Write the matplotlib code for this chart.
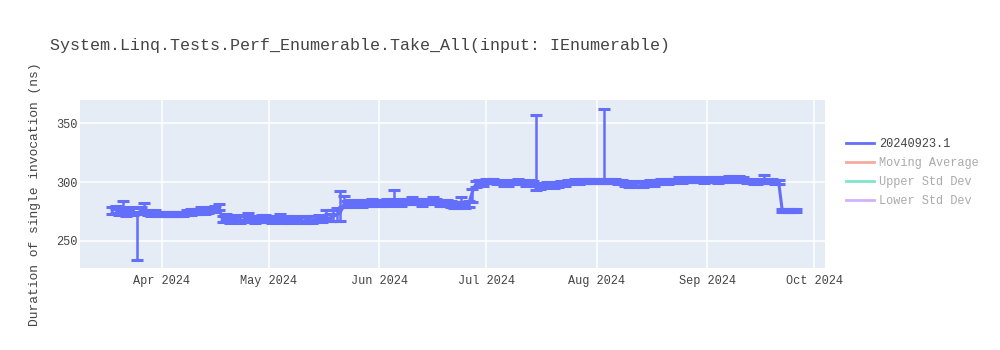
import matplotlib
matplotlib.use("Agg")
import matplotlib.pyplot as plt
import matplotlib.dates as mdates
from matplotlib.lines import Line2D
import pandas as pd
import numpy as np

# ---- data ----
start_date = "2024-03-18"
end_date = "2024-09-26"

values_mar = [276, 277, 275, 278, 274, 276, 275, 272, 276, 277, 274, 273, 274, 273]
values_apr = [273, 273, 273, 273, 273, 273, 273, 274, 274, 275, 275, 276, 275, 276, 277, 277, 278,
              268, 269, 267, 268, 269, 267, 268, 270, 268, 267, 268, 269, 268]
values_may = [268, 267, 268, 269, 267, 268, 267, 268, 268, 267, 267, 268, 267, 268, 269, 268, 270, 269, 271, 272,
              274,
              281, 281, 282, 281, 282, 281, 282, 282, 283, 282]
values_jun = [282, 282, 283, 282, 283, 283, 282, 283, 283, 284, 283, 283, 282, 283, 283, 284, 283, 282, 282, 282,
              281, 280, 280, 281, 280, 281,
              291, 298, 299, 299]
values_jul = [301, 301, 301, 300, 300, 299, 299, 300, 300, 301, 300, 299, 300, 299,
              297,
              296, 297, 298, 298, 297, 298, 299, 299, 300, 300, 301, 300, 301, 301, 301, 301]
values_aug = [301, 301,
              301,
              301, 301, 301, 300, 300, 299, 298, 298, 299, 299, 298, 299, 300, 299, 300, 301, 301, 300,
              301, 301, 302, 301, 302, 302, 302, 302, 302, 301]
values_sep = [302, 302, 302, 301, 302, 302, 303, 303, 302, 303, 302, 301, 301, 300, 300, 301, 301, 301, 301, 300, 300,
              276, 276, 276, 276, 276]

err_hi_mar = [3, 3, 3, 6, 3, 3, 3, 3, 3, 5, 2, 2, 2, 2]
err_lo_mar = [3, 3, 3, 3, 3, 3, 3, 38, 3, 3, 2, 2, 2, 2]
err_hi_apr = [2, 2, 2, 2, 2, 2, 2, 2, 3, 2, 2, 3, 2, 3, 2, 3, 3,
              3, 4, 3, 3, 3, 4, 3, 4, 3, 3, 3, 3, 4]
err_lo_apr = [2, 2, 2, 2, 2, 2, 2, 2, 2, 2, 2, 2, 2, 2, 2, 2, 2,
              2, 2, 2, 2, 2, 2, 2, 2, 2, 2, 2, 2, 2]
err_hi_may = [3, 3, 3, 4, 3, 3, 3, 3, 3, 3, 3, 3, 4, 3, 3, 3, 6, 4, 5, 6,
              18,
              7, 3, 3, 3, 3, 3, 3, 3, 3, 3]
err_lo_may = [2, 2, 2, 2, 2, 2, 2, 2, 2, 2, 2, 2, 2, 2, 2, 2, 2, 2, 4, 5,
              7,
              2, 2, 2, 2, 2, 2, 2, 2, 2, 2]
err_hi_jun = [3, 3, 3, 3, 10, 3, 3, 3, 3, 3, 3, 3, 3, 3, 3, 3, 3, 3, 3, 3,
              3, 3, 3, 6, 3, 3,
              3, 3, 3, 3]
err_lo_jun = [2, 2, 2, 2, 2, 2, 2, 2, 2, 2, 2, 2, 2, 2, 2, 2, 2, 2, 2, 2,
              2, 2, 2, 2, 2, 2,
              8, 2, 2, 2]
err_hi_jul = [2, 2, 2, 2, 2, 2, 2, 2, 2, 2, 2, 2, 2, 2,
              60,
              2, 2, 2, 2, 2, 2, 2, 2, 2, 2, 2, 2, 2, 2, 2, 2]
err_lo_jul = [2, 2, 2, 2, 2, 2, 2, 2, 2, 2, 2, 2, 2, 2,
              4,
              2, 2, 2, 2, 2, 2, 2, 2, 2, 2, 2, 2, 2, 2, 2, 2]
err_hi_aug = [2, 2,
              61,
              2, 2, 2, 2, 2, 2, 2, 2, 2, 2, 2, 2, 2, 2, 2, 2, 2, 2,
              2, 2, 2, 2, 2, 2, 2, 2, 2, 2]
err_lo_aug = [2, 2,
              2,
              2, 2, 2, 2, 2, 2, 2, 2, 2, 2, 2, 2, 2, 2, 2, 2, 2, 2,
              2, 2, 2, 2, 2, 2, 2, 2, 2, 2]
err_hi_sep = [2, 2, 2, 2, 2, 2, 2, 2, 2, 2, 2, 2, 2, 2, 2, 2, 5, 2, 2, 2, 2,
              1, 1, 1, 1, 1]
err_lo_sep = [2, 2, 2, 2, 2, 2, 2, 2, 2, 2, 2, 2, 2, 2, 2, 2, 2, 2, 2, 2, 2,
              1, 1, 1, 1, 1]

legend_names = ["20240923.1", "Moving Average", "Upper Std Dev", "Lower Std Dev"]
title = "System.Linq.Tests.Perf_Enumerable.Take_All(input: IEnumerable)"
ylabel = "Duration of single invocation (ns)"
y_ticks = [250, 300, 350]

values = values_mar + values_apr + values_may + values_jun + values_jul + values_aug + values_sep
err_hi = err_hi_mar + err_hi_apr + err_hi_may + err_hi_jun + err_hi_jul + err_hi_aug + err_hi_sep
err_lo = err_lo_mar + err_lo_apr + err_lo_may + err_lo_jun + err_lo_jul + err_lo_aug + err_lo_sep
dates = pd.date_range(start_date, end_date, freq="D")

# ---- style ----
plt.rcParams["font.family"] = ["Liberation Mono", "DejaVu Sans Mono"]
BLUE = "#636EFA"
colors = [BLUE, "#EF553B", "#00CC96", "#AB63FA"]
TXT = "#444444"

fig = plt.figure(figsize=(10, 3.5), dpi=100)
ax = fig.add_axes([0.08, 0.234, 0.745, 0.48])
ax.set_facecolor("#E5ECF6")
for s in ax.spines.values():
    s.set_visible(False)

ax.errorbar(dates, values, yerr=[err_lo, err_hi], color=BLUE, ecolor=BLUE,
            lw=2.2, elinewidth=1.8, capsize=4.5, capthick=2.2, zorder=3)

ax.set_xlim(pd.Timestamp("2024-03-09"), pd.Timestamp("2024-10-04"))
ax.set_ylim(227, 369.5)
ax.set_yticks(y_ticks)
ax.xaxis.set_major_locator(mdates.MonthLocator())
ax.xaxis.set_major_formatter(mdates.DateFormatter("%b %Y"))
ax.grid(True, color="white", lw=1.1, zorder=0)
ax.set_axisbelow(True)
ax.tick_params(axis="x", length=0, labelsize=8.6, colors=TXT, pad=5)
ax.tick_params(axis="y", length=0, labelsize=8.6, colors=TXT, pad=2)

fig.text(0.05, 0.87, title, fontsize=12, color=TXT, ha="left", va="center")
fig.text(0.035, 0.444, ylabel, fontsize=9.4, color=TXT, rotation=90, ha="center", va="center")

handles = [Line2D([0], [0], color=c, lw=2, alpha=(1 if i == 0 else 0.5)) for i, c in enumerate(colors)]
leg = fig.legend(handles, legend_names, loc="upper left", bbox_to_anchor=(0.846, 0.605),
                 frameon=False, fontsize=8.6, handlelength=2.35, handletextpad=0.42,
                 labelspacing=0.58, borderpad=0, borderaxespad=0)
for i, t in enumerate(leg.get_texts()):
    t.set_color(TXT if i == 0 else "#AAAAAA")

fig.savefig("out.png", dpi=100, facecolor="white")
